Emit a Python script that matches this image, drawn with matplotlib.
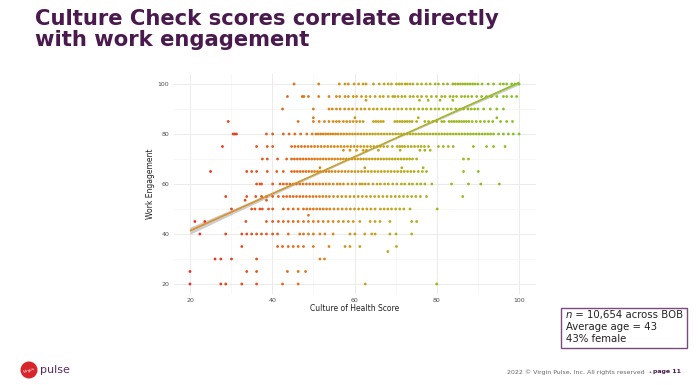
import numpy as np
import matplotlib.pyplot as plt
from matplotlib.collections import LineCollection
from matplotlib.colors import LinearSegmentedColormap, Normalize
from matplotlib.patches import Rectangle, Ellipse

# culture of health score (x) of the respondents at each work engagement level (y)
row_100 = [45.3, 51.3, 56.3, 57.7, 58.5, 59.9, 61.0, 62.1, 62.8, 64.6, 66.0, 67.2, 68.2, 69.0,
           70.2, 70.9, 71.5, 72.3, 72.8, 73.5, 74.2, 75.3, 76.3, 77.4, 78.4, 79.6, 80.4, 81.6,
           82.6, 83.9, 84.5, 85.1, 85.7, 86.3, 86.9, 87.5, 88.1, 88.7, 89.3, 90.0, 91.0, 92.5,
           93.8, 95.4, 96.2, 97.0, 98.2, 99.0, 100.0]
row_95 = [43.7, 47.3, 47.7, 48.8, 51.3, 53.8, 55.6, 56.4, 57.7, 58.5, 59.7, 60.5, 61.7, 62.8,
          63.8, 65.0, 66.2, 67.0, 68.2, 69.3, 69.8, 70.6, 71.5, 72.3, 73.5, 74.3, 75.3, 76.3,
          77.5, 78.7, 79.9, 81.2, 82.0, 83.2, 84.0, 84.8, 86.0, 86.8, 87.6, 88.5, 89.7, 90.9,
          92.1, 93.3, 94.6, 96.2, 97.0, 98.2, 99.4]
row_93 = [62.8, 75.8, 77.9, 80.8, 83.9]
row_90 = [42.5, 50.0, 53.8, 54.6, 55.6, 56.5, 57.6, 58.6, 59.5, 60.6, 61.6, 62.5, 63.6, 64.6,
          65.5, 66.6, 67.6, 68.5, 69.6, 70.6, 71.5, 72.6, 73.6, 74.5, 75.6, 76.6, 77.5, 78.6,
          79.6, 80.5, 81.6, 82.6, 83.5, 84.6, 85.6, 86.5, 87.6, 88.4, 89.2, 90.0, 91.4, 93.0,
          94.6, 96.2]
row_87 = [50.0, 60.1, 75.5, 94.6]
row_85 = [29.3, 46.3, 50.0, 51.4, 52.7, 53.8, 54.8, 55.6, 56.3, 57.3, 58.1, 58.9, 59.7, 60.5,
          61.3, 62.1, 64.6, 65.2, 65.8, 66.4, 67.0, 69.8, 70.4, 71.0, 71.6, 72.2, 72.8, 73.4,
          74.0, 75.1, 77.1, 78.0, 79.0, 80.0, 81.2, 81.8, 83.0, 83.6, 84.2, 84.8, 85.4, 86.0,
          86.6, 87.2, 87.8, 88.6, 89.6, 90.6, 91.6, 92.6, 93.6, 95.5, 97.0, 98.4]
row_80 = [30.5, 30.9, 31.3, 38.6, 40.1, 42.7, 44.1, 45.5, 46.9, 48.4, 49.7, 50.6, 51.2, 51.8,
          52.4, 53.0, 53.6, 54.2, 54.8, 55.4, 56.0, 56.7, 57.4, 58.1, 58.8, 59.5, 60.2, 60.9,
          61.6, 62.3, 63.0, 63.7, 64.4, 65.1, 65.8, 66.5, 67.2, 67.9, 68.6, 69.3, 70.0, 70.7,
          71.4, 72.1, 72.8, 73.5, 74.2, 74.9, 75.6, 76.3, 77.0, 77.7, 78.4, 79.1, 79.8, 80.5,
          81.2, 81.9, 82.6, 83.3, 84.0, 84.7, 85.4, 86.1, 86.8, 87.5, 88.2, 88.9, 89.6, 90.3,
          91.0, 91.7, 92.4, 93.1, 93.8, 95.0, 96.2, 97.4, 98.6, 100.0]
row_75 = [27.9, 36.2, 38.8, 40.1, 44.7, 45.5, 46.3, 47.1, 47.9, 48.7, 49.5, 50.3, 51.1, 51.9,
          52.7, 53.5, 54.3, 55.1, 55.9, 56.7, 57.5, 58.3, 59.1, 59.9, 60.7, 61.5, 62.3, 63.1,
          63.9, 64.7, 65.5, 66.3, 67.1, 68.0, 69.2, 70.4, 71.0, 71.6, 72.2, 73.0, 73.8, 74.6,
          75.4, 76.2, 77.0, 78.0, 80.4, 81.6, 82.8, 84.0, 88.9, 92.1, 93.8, 96.6]
row_73 = [57.3, 58.9, 60.5, 62.1, 62.9, 65.8, 71.1, 75.9, 77.1, 78.4]
row_70 = [37.6, 38.8, 41.3, 43.5, 44.7, 45.4, 46.1, 46.8, 47.5, 48.2, 48.9, 49.6, 50.3, 51.0,
          51.7, 52.4, 53.1, 53.8, 54.5, 55.2, 55.9, 56.6, 57.3, 58.0, 58.7, 59.4, 60.1, 60.8,
          61.5, 62.2, 62.9, 63.6, 64.3, 65.0, 65.7, 66.4, 67.1, 67.8, 68.5, 69.2, 69.9, 70.6,
          71.3, 72.0, 72.7, 73.4, 74.1, 75.1, 86.5, 87.7]
row_66 = [51.6, 62.5, 71.5, 76.7]
row_65 = [25.0, 33.8, 35.0, 36.2, 38.8, 41.1, 42.7, 44.7, 45.4, 46.1, 46.8, 47.5, 48.2, 48.9,
          49.6, 50.3, 51.0, 51.7, 52.4, 53.1, 53.8, 54.5, 55.3, 56.1, 56.9, 57.7, 58.5, 59.3,
          60.1, 60.9, 61.7, 62.5, 63.3, 64.1, 64.9, 65.7, 66.5, 67.3, 68.1, 68.9, 69.7, 70.5,
          71.3, 72.1, 72.9, 73.7, 74.5, 75.5, 76.5, 77.5, 86.5, 90.1]
row_60 = [36.2, 37.0, 37.4, 40.1, 41.9, 42.7, 43.5, 44.3, 45.1, 45.9, 46.7, 47.5, 48.3, 49.1,
          49.9, 50.7, 51.5, 52.3, 53.1, 53.9, 54.8, 55.8, 56.5, 57.3, 58.4, 59.4, 60.3, 61.3,
          61.9, 62.6, 63.4, 64.5, 65.5, 66.3, 67.3, 68.2, 69.3, 70.3, 71.4, 72.2, 73.3, 74.1,
          75.2, 76.1, 77.1, 78.8, 83.6, 87.7, 90.7, 95.2]
row_55 = [28.7, 33.8, 36.0, 37.4, 38.6, 40.1, 41.5, 42.7, 43.5, 44.3, 45.1, 45.9, 46.7, 47.5,
          48.3, 49.1, 49.9, 50.7, 51.5, 52.3, 53.1, 53.9, 54.9, 55.9, 56.9, 57.9, 58.9, 59.9,
          60.9, 61.9, 62.9, 63.9, 64.9, 65.9, 66.9, 67.9, 68.9, 69.9, 70.9, 71.9, 72.9, 73.9,
          74.9, 76.0, 77.5, 86.3]
row_53 = [33.4, 38.6]
row_50 = [30.1, 35.0, 35.8, 37.0, 37.6, 39.1, 40.1, 42.7, 43.9, 45.1, 46.3, 47.6, 48.4, 49.2,
          50.0, 50.8, 51.6, 52.4, 53.2, 54.0, 55.0, 56.0, 57.0, 58.0, 59.0, 60.0, 61.0, 62.0,
          63.0, 64.0, 65.0, 66.3, 67.2, 68.1, 69.0, 70.0, 71.0, 72.0, 73.5, 80.1]
row_47 = [48.8]
row_45 = [21.2, 23.6, 33.6, 38.6, 40.1, 41.5, 42.7, 43.9, 45.1, 46.3, 47.6, 48.8, 50.0, 51.2,
          52.4, 53.6, 54.8, 56.1, 57.3, 58.5, 59.7, 61.3, 63.8, 65.0, 66.2, 68.6, 73.9, 75.1]
row_40 = [22.4, 28.7, 32.6, 33.8, 35.0, 36.2, 37.4, 38.6, 40.1, 41.3, 43.9, 46.7, 47.6, 48.8,
          50.0, 51.6, 52.8, 54.8, 58.9, 60.1, 62.5, 64.2, 65.0, 68.6, 70.1, 73.9]
row_35 = [32.6, 41.3, 42.5, 43.9, 45.1, 46.3, 47.6, 50.0, 53.8, 57.7, 58.9, 61.3, 70.2]
row_33 = [68.1]
row_30 = [26.1, 27.5, 30.1, 36.2, 51.6, 52.7]
row_25 = [20.0, 33.8, 36.2, 43.7, 46.3, 48.1]
row_20 = [20.0, 27.5, 28.7, 32.6, 36.2, 42.5, 46.3, 62.6, 80.0]

engagement_rows = [(100, row_100), (95, row_95), (93.5, row_93), (90, row_90), (86.5, row_87),
                   (85, row_85), (80, row_80), (75, row_75), (73.5, row_73), (70, row_70),
                   (66.5, row_66), (65, row_65), (60, row_60), (55, row_55), (53.5, row_53),
                   (50, row_50), (47.5, row_47), (45, row_45), (40, row_40), (35, row_35),
                   (33, row_33), (30, row_30), (25, row_25), (20, row_20)]

# linear fit and its confidence band
fit_x = [20, 100]
fit_y = [41.3, 100.5]
band_x = [20, 30, 40, 50, 60, 70, 80, 90, 100]
band_half = [1.4, 1.0, 0.7, 0.45, 0.35, 0.35, 0.45, 0.6, 0.8]

PURPLE = "#4A1A4E"
TEXT = "#222222"

W, H = 698, 385
fig = plt.figure(figsize=(W / 100, H / 100), dpi=100)
fig.patch.set_facecolor("white")


def fx(px):
    return px / W


def fy(py):
    return 1 - py / H


# --- title ---
fig.text(fx(35), fy(9), "Culture Check scores correlate directly\nwith work engagement",
         ha="left", va="top", fontsize=15.2, fontweight="bold", color=PURPLE,
         family="DejaVu Sans", linespacing=1.05)

# --- scatter ---
ax = fig.add_axes([fx(173.5), fy(294), fx(535.5) - fx(173.5), fy(74) - fy(294)])
ax.set_xlim(16, 104)
ax.set_ylim(16, 104)

x = np.concatenate([np.array(r, dtype=float) for _, r in engagement_rows])
y = np.concatenate([np.full(len(r), lvl, dtype=float) for lvl, r in engagement_rows])

pt_cmap = LinearSegmentedColormap.from_list(
    "coh", [(0.0, "#F0261C"), (0.25, "#E65A1A"), (0.40, "#DF801A"),
            (0.56, "#C8A21C"), (0.75, "#A6B51E"), (1.0, "#7EC31F")])
norm = Normalize(20, 100)
ax.scatter(x, y, c=x, cmap=pt_cmap, norm=norm, s=4, linewidths=0, zorder=3)

bx = np.array(band_x, dtype=float)
by = np.interp(bx, fit_x, fit_y)
ax.fill_between(bx, by - np.array(band_half), by + np.array(band_half),
                color="#B8B8B8", alpha=0.7, linewidth=0, zorder=2)

ln_cmap = LinearSegmentedColormap.from_list(
    "fit", [(0.0, "#E08A22"), (0.5, "#C4A024"), (1.0, "#8CC21E")])
lx = np.linspace(fit_x[0], fit_x[1], 120)
ly = np.interp(lx, fit_x, fit_y)
pts = np.column_stack([lx, ly]).reshape(-1, 1, 2)
segs = np.concatenate([pts[:-1], pts[1:]], axis=1)
lc = LineCollection(segs, cmap=ln_cmap, norm=norm, linewidth=1.2, zorder=4)
lc.set_array((lx[:-1] + lx[1:]) / 2)
ax.add_collection(lc)

ax.set_xticks([20, 40, 60, 80, 100])
ax.set_yticks([20, 40, 60, 80, 100])
ax.set_xticks([30, 50, 70, 90], minor=True)
ax.set_yticks([30, 50, 70, 90], minor=True)
ax.grid(which="major", color="#EBEBEB", linewidth=0.7)
ax.grid(which="minor", color="#F4F4F4", linewidth=0.5)
ax.set_axisbelow(True)
for s in ax.spines.values():
    s.set_visible(False)
ax.tick_params(which="both", length=0, labelsize=4.5, labelcolor="#4D4D4D", pad=3)
ax.set_xlabel("Culture of Health Score", fontsize=5.5, color=TEXT, labelpad=0.5)
ax.set_ylabel("Work Engagement", fontsize=5.5, color=TEXT, labelpad=2)

# --- sample box ---
fig.add_artist(Rectangle((fx(561), fy(348)), fx(687) - fx(561), fy(308) - fy(348),
                         transform=fig.transFigure, fill=False, edgecolor="#7B4A7E",
                         linewidth=1.0))
t_n = fig.text(fx(566), fy(315), "n", style="italic", fontsize=7.3, color=TEXT,
               va="center", ha="left")
ax.annotate(" = 10,654 across BOB", xy=(1, 0), xycoords=t_n, va="bottom", ha="left",
            fontsize=7.3, color=TEXT, annotation_clip=False)
fig.text(fx(566), fy(327), "Average age = 43", fontsize=7.3, color=TEXT, va="center")
fig.text(fx(566), fy(339), "43% female", fontsize=7.3, color=TEXT, va="center")

# --- footer ---
fig.text(fx(681), fy(372), "page 11", fontsize=4.5, fontweight="bold", color=PURPLE,
         ha="right", va="center")
fig.text(fx(652), fy(372), "2022 \u00a9 Virgin Pulse, Inc. All rights reserved  \u2022",
         fontsize=4.5, color="#666666", ha="right", va="center")

# --- logo ---
fig.add_artist(Ellipse((fx(29), fy(370)), 17 / W, 17 / H, transform=fig.transFigure,
                       facecolor="#D7262B", edgecolor="none"))
fig.text(fx(29), fy(370), "Virgin", fontsize=3, style="italic", color="white",
         ha="center", va="center", rotation=15)
fig.text(fx(40), fy(370), "pulse", fontsize=8, color="#5B2A62", ha="left", va="center")

fig.savefig("out.png", dpi=100)
